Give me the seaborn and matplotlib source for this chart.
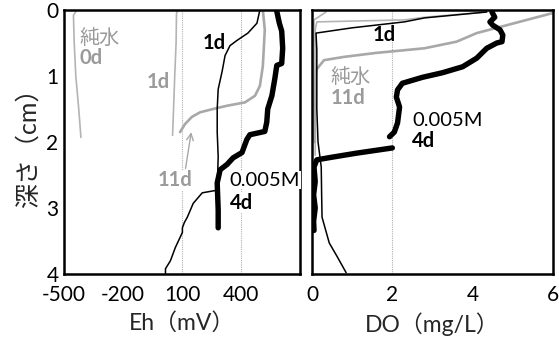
import matplotlib
matplotlib.use("Agg")
import matplotlib.pyplot as plt
import seaborn as sns
import pandas as pd

# ---------------- data: Eh panel (depth in cm, Eh in mV) ----------------
eh_pure0d_depth = [0.0, 0.08, 0.5, 1.0, 1.5, 1.93]
eh_pure0d = [-435, -452, -448, -440, -425, -414]

eh_pure1d_depth = [0.0, 0.05, 0.5, 1.0, 1.5, 1.9]
eh_pure1d = [80, 72, 70, 63, 57, 52]

eh_pure11d_depth = [0.0, 0.3, 0.85, 1.15, 1.3, 1.4, 1.45, 1.5, 1.55, 1.62, 1.73, 1.85]
eh_pure11d = [511, 521, 511, 496, 471, 420, 330, 258, 192, 150, 115, 90]

eh_m1d_depth = [0.0, 0.2, 0.35, 0.46, 0.54, 0.69, 0.93, 1.2, 1.5, 1.85, 2.22, 2.73,
                2.77, 2.93, 3.14, 3.22, 3.3, 3.37, 3.6, 3.8, 3.92, 4.0]
eh_m1d = [496, 481, 435, 380, 344, 319, 304, 284, 279, 279, 284, 279,
          203, 157, 127, 112, 102, 102, 66, 41, 16, 16]

eh_m4d_depth = [0.02, 0.2, 0.32, 0.58, 0.81, 0.84, 1.04, 1.3, 1.5, 1.7, 1.84, 1.89,
                1.96, 2.16, 2.24, 2.34, 2.42, 2.62, 3.03, 3.3]
eh_m4d = [582, 595, 607, 612, 607, 582, 572, 557, 536, 531, 521, 445,
          430, 405, 360, 329, 294, 279, 284, 284]

# ---------------- data: DO panel (depth in cm, DO in mg/L) ----------------
do_pure0d_depth = [0.03, 0.15, 0.5, 1.0, 1.5, 2.0]
do_pure0d = [0.35, 0.05, 0.05, 0.05, 0.05, 0.05]

do_pure1d_depth = [0.03, 0.11, 0.15, 0.18, 0.3, 1.0, 1.6, 2.2]
do_pure1d = [4.35, 2.8, 2.3, 0.12, 0.08, 0.08, 0.08, 0.08]

do_pure11d_depth = [0.05, 0.23, 0.35, 0.48, 0.58, 0.65, 0.71, 0.76, 0.91, 1.3, 1.7, 2.0]
do_pure11d = [5.97, 4.85, 4.1, 3.6, 2.8, 1.6, 0.8, 0.3, 0.1, 0.08, 0.07, 0.07]

do_m1d_depth = [0.03, 0.12, 0.18, 0.27, 0.35, 0.6, 1.0, 1.5, 2.0, 2.38, 2.8, 3.14,
                3.53, 3.74, 3.98]
do_m1d = [4.35, 2.8, 2.3, 1.0, 0.1, 0.12, 0.12, 0.12, 0.15, 0.23, 0.24, 0.25,
          0.43, 0.63, 0.85]

do_m4d_upper_depth = [0.03, 0.11, 0.18, 0.23, 0.3, 0.38, 0.48, 0.5, 0.58, 0.73, 0.86,
                      0.95, 1.02, 1.11, 1.21, 1.32, 1.47, 1.71, 1.85, 1.92]
do_m4d_upper = [4.48, 4.55, 4.43, 4.5, 4.68, 4.75, 4.73, 4.6, 4.35, 4.1, 3.75,
                3.25, 2.75, 2.25, 2.13, 2.1, 2.18, 2.13, 2.05, 1.93]

do_m4d_lower_depth = [2.09, 2.17, 2.23, 2.27, 2.38, 2.6, 2.8, 3.0, 3.2, 3.34]
do_m4d_lower = [2.0, 1.1, 0.5, 0.12, 0.05, 0.08, 0.04, 0.08, 0.04, 0.05]

eh_ticks = list(range(-500, 701, 100))
eh_ticklabels = ["-500", "-200", "100", "400"]
do_ticks = [0, 1, 2, 3, 4, 5, 6]
do_ticklabels = ["0", "", "2", "", "4", "", "6"]
depth_ticks = [0, 0.5, 1, 1.5, 2, 2.5, 3, 3.5, 4]
depth_ticklabels = ["0", "", "1", "", "2", "", "3", "", "4"]

# ---------------- style ----------------
sns.set_theme(style="white")
plt.rcParams["font.family"] = ["Lato", "Noto Sans CJK JP", "DejaVu Sans"]

GRAY_LINE = "#a8a8a8"
GRAY_TEXT = "#9a9a9a"

fig = plt.figure(figsize=(5.59, 3.38), dpi=100)
ax1 = fig.add_axes([64 / 559, 64 / 338, 236 / 559, 264 / 338])
ax2 = fig.add_axes([312 / 559, 64 / 338, 241 / 559, 264 / 338])


def draw(ax, xs, ys, color, lw, z=2):
    df = pd.DataFrame({"x": xs, "y": ys})
    sns.lineplot(data=df, x="x", y="y", ax=ax, sort=False, estimator=None,
                 color=color, linewidth=lw, zorder=z,
                 solid_capstyle="round", solid_joinstyle="round")


# Eh panel
for v in (100, 400):
    ax1.axvline(v, color="#b0b0b0", lw=0.8, ls=(0, (1, 1)), zorder=1)
draw(ax1, eh_pure0d, eh_pure0d_depth, "#b4b4b4", 1.2)
draw(ax1, eh_pure1d, eh_pure1d_depth, "#b4b4b4", 1.2)
draw(ax1, eh_pure11d, eh_pure11d_depth, GRAY_LINE, 1.9)
draw(ax1, eh_m1d, eh_m1d_depth, "black", 1.1, 3)
draw(ax1, eh_m4d, eh_m4d_depth, "black", 3.9, 3)

# DO panel
ax2.axvline(2, color="#b0b0b0", lw=0.8, ls=(0, (1, 1)), zorder=1)
draw(ax2, do_pure0d, do_pure0d_depth, "#b4b4b4", 1.2)
draw(ax2, do_pure1d, do_pure1d_depth, "#b4b4b4", 1.2)
draw(ax2, do_pure11d, do_pure11d_depth, GRAY_LINE, 1.9)
draw(ax2, do_m1d, do_m1d_depth, "black", 1.1, 3)
draw(ax2, do_m4d_upper, do_m4d_upper_depth, "black", 3.9, 3)
draw(ax2, do_m4d_lower, do_m4d_lower_depth, "black", 3.9, 3)

# axes formatting
for ax in (ax1, ax2):
    ax.set_ylim(4, 0)
    ax.set_yticks(depth_ticks)
    ax.tick_params(axis="both", direction="in", length=5, width=1.5,
                   colors="black", labelsize=15, pad=4)
    ax.tick_params(axis="x", pad=8)
    for s in ax.spines.values():
        s.set_color("black")
        s.set_linewidth(1.8)
    ax.set_ylabel("")

ax1.set_xlim(-500, 700)
ax1.set_xticks(eh_ticks)
ax1.set_xticklabels([t if t in eh_ticklabels else "" for t in map(str, eh_ticks)])
ax1.set_yticklabels(depth_ticklabels)
ax1.set_xlabel("Eh（mV）", fontsize=16.5, labelpad=5)
ax1.set_ylabel("深さ（cm）", fontsize=18, labelpad=5)

ax2.set_xlim(0, 6)
ax2.set_xticks(do_ticks)
ax2.set_xticklabels(do_ticklabels)
ax2.set_yticklabels([])
ax2.set_xlabel("DO（mg/L）", fontsize=16.5, labelpad=5)

# annotations Eh panel
fs = 14.5
wb = dict(facecolor="white", edgecolor="none", pad=0.5)
ax1.text(-419, 0.42, "純水", color=GRAY_TEXT, fontsize=fs, ha="left", va="center")
ax1.text(-419, 0.73, "0d", color=GRAY_TEXT, fontsize=fs, fontweight="bold", ha="left", va="center")
ax1.text(-80, 1.09, "1d", color=GRAY_TEXT, fontsize=fs, fontweight="bold", ha="left", va="center")
ax1.text(205, 0.5, "1d", color="black", fontsize=fs, fontweight="bold", ha="left", va="center")
ax1.text(-22, 2.58, "11d", color=GRAY_TEXT, fontsize=fs, fontweight="bold", ha="left", va="center",
         bbox=wb, zorder=4)
ax1.text(342, 2.58, "0.005M", color="black", fontsize=fs, ha="left", va="center",
         bbox=wb, zorder=4)
ax1.text(342, 2.92, "4d", color="black", fontsize=fs, fontweight="bold", ha="left", va="center",
         bbox=wb, zorder=4)
ax1.annotate("", xy=(147, 1.85), xytext=(118, 2.4),
             arrowprops=dict(arrowstyle="->", color=GRAY_LINE, lw=1.0,
                             mutation_scale=12, shrinkA=0, shrinkB=0), zorder=4)

# annotations DO panel
ax2.text(1.5, 0.38, "1d", color="black", fontsize=fs, fontweight="bold", ha="left", va="center")
ax2.text(0.46, 1.01, "純水", color=GRAY_TEXT, fontsize=fs, ha="left", va="center")
ax2.text(0.46, 1.34, "11d", color=GRAY_TEXT, fontsize=fs, fontweight="bold", ha="left", va="center")
ax2.text(2.5, 1.67, "0.005M", color="black", fontsize=fs, ha="left", va="center")
ax2.text(2.5, 1.98, "4d", color="black", fontsize=fs, fontweight="bold", ha="left", va="center")

fig.savefig("out.png", dpi=100)
